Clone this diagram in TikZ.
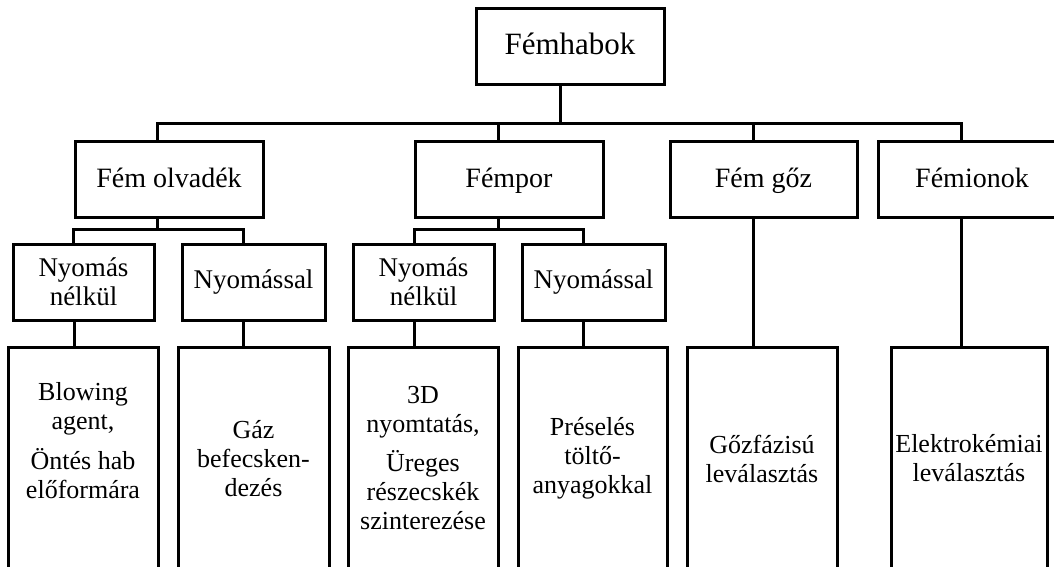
\documentclass[tikz,border=0pt]{standalone}
\usepackage{fontspec}
\setmainfont{Liberation Serif}
\begin{document}
\begin{tikzpicture}[x=1pt,y=-1pt,
  every node/.style={inner sep=0pt,outer sep=0pt},
  box/.style={draw,line width=3pt,rectangle,align=center},
  rootbox/.style={box,minimum width=188pt,minimum height=76pt,text height=23pt,text depth=7pt,font=\fontsize{31}{33}\selectfont},
  lvlone/.style={box,minimum width=188pt,minimum height=76pt,text height=22pt,text depth=6pt,font=\fontsize{28}{30}\selectfont},
  lvltwo/.style={box,minimum height=76pt,font=\fontsize{27}{29}\selectfont},
  lvlthree/.style={box,minimum height=223pt,font=\fontsize{26}{29}\selectfont},
  conn/.style={line width=3pt}]
\useasboundingbox (0,0) rectangle (1054,566);
\begin{scope}
\clip (0,0) rectangle (1054,566);
% root
\node[rootbox] (root) at (570,46) {Fémhabok};
% level 1
\node[lvlone] (olv) at (169,179) {Fém olvadék};
\node[lvlone] (por) at (509,179) {Fémpor};
\node[lvlone,minimum width=187pt] (goz) at (763.5,179) {Fém gőz};
\node[lvlone] (ion) at (972,179) {Fémionok};
% level 2
\node[lvltwo,minimum width=141pt] (a1) at (83.5,282) {Nyomás\\nélkül};
\node[lvltwo,minimum width=143pt] (a2) at (253.5,282) {Nyomással};
\node[lvltwo,minimum width=141pt] (a3) at (423.5,282) {Nyomás\\nélkül};
\node[lvltwo,minimum width=143pt] (a4) at (593.5,282) {Nyomással};
% level 3
\node[lvlthree,minimum width=150pt] (b1) at (83,458.5) {Blowing\\agent,\\[11pt]Öntés hab\\előformára\\[7pt]\mbox{}};
\node[lvlthree,minimum width=151pt] (b2) at (253.5,458.5) {Gáz\\befecsken-\\dezés};
\node[lvlthree,minimum width=150pt] (b3) at (423,458.5) {3D\\nyomtatás,\\[10pt]Üreges\\részecskék\\szinterezése};
\node[lvlthree,minimum width=149pt] (b4) at (592.5,458.5) {Préselés\\töltő-\\anyagokkal};
\node[lvlthree,minimum width=150pt] (b5) at (762,458.5) {Gőzfázisú\\leválasztás};
\node[lvlthree,minimum width=156pt] (b6) at (969,458.5) {Elektrokémiai\\leválasztás};
% stem points
\coordinate (r0) at ([xshift=-10pt]root.south);
\coordinate (o0) at ([xshift=-12pt]olv.north);
\coordinate (p0) at ([xshift=-11pt]por.north);
\coordinate (g0) at ([xshift=-10.5pt]goz.north);
\coordinate (i0) at ([xshift=-11pt]ion.north);
\coordinate (o1) at ([xshift=-12pt]olv.south);
\coordinate (p1) at ([xshift=-11pt]por.south);
\coordinate (g1) at ([xshift=-10.5pt]goz.south);
\coordinate (i1) at ([xshift=-11pt]ion.south);
\coordinate (a1n) at ([xshift=-10pt]a1.north);
\coordinate (a2n) at ([xshift=-10.5pt]a2.north);
\coordinate (a3n) at ([xshift=-9.5pt]a3.north);
\coordinate (a4n) at ([xshift=-10.5pt]a4.north);
\coordinate (a1s) at ([xshift=-9.5pt]a1.south);
\coordinate (a2s) at ([xshift=-10.5pt]a2.south);
\coordinate (a3s) at ([xshift=-9.5pt]a3.south);
\coordinate (a4s) at ([xshift=-10.5pt]a4.south);
\coordinate (bus) at (0,123);
\coordinate (busa) at (0,229);
\coordinate (busb) at (0,229);
% connectors
\draw[conn] (r0) -- (r0 |- bus);
\draw[conn] (o0) -- (o0 |- bus) -- (i0 |- bus) -- (i0);
\draw[conn] (p0) -- (p0 |- bus);
\draw[conn] (g0) -- (g0 |- bus);
\draw[conn] (o1) -- (o1 |- busa);
\draw[conn] (a1n) -- (a1n |- busa) -- (a2n |- busa) -- (a2n);
\draw[conn] (p1) -- (p1 |- busb);
\draw[conn] (a3n) -- (a3n |- busb) -- (a4n |- busb) -- (a4n);
\draw[conn] (a1s) -- (a1s |- b1.north);
\draw[conn] (a2s) -- (a2s |- b2.north);
\draw[conn] (a3s) -- (a3s |- b3.north);
\draw[conn] (a4s) -- (a4s |- b4.north);
\draw[conn] (g1) -- (g1 |- b5.north);
\draw[conn] (i1) -- (i1 |- b6.north);
\end{scope}
\end{tikzpicture}
\end{document}
